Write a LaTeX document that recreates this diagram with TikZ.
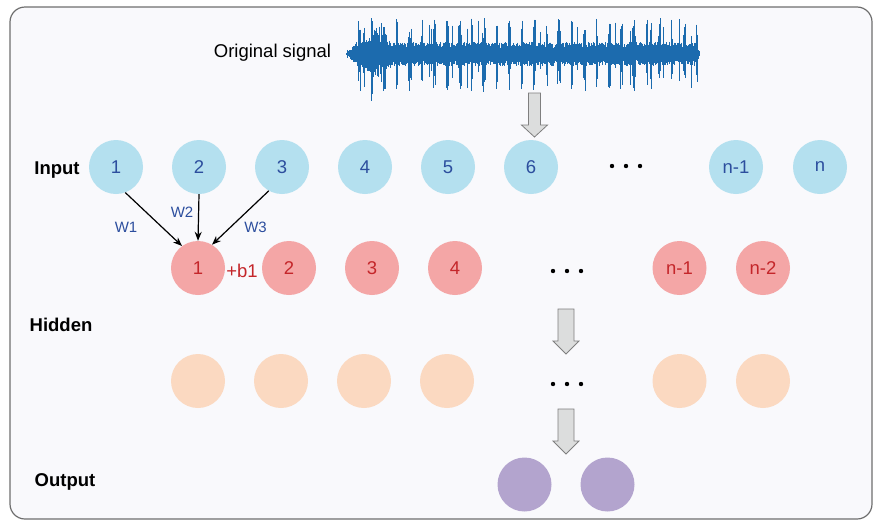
\documentclass[tikz,border=0pt]{standalone}
\usepackage{fontspec}
\setmainfont{Liberation Sans}
\usetikzlibrary{arrows.meta}

\definecolor{framegray}{HTML}{6E6E6E}
\definecolor{panelbg}{HTML}{F9F9FC}
\definecolor{inblue}{HTML}{B4E0EF}
\definecolor{hidred}{HTML}{F4A6A6}
\definecolor{hidpeach}{HTML}{FBD9C1}
\definecolor{outpurple}{HTML}{B3A4CE}
\definecolor{numblue}{HTML}{2C4E9E}
\definecolor{numred}{HTML}{C4262A}
\definecolor{wave}{HTML}{1C6BAE}
\definecolor{arrowfill}{HTML}{DCDDDD}
\definecolor{arrowedge}{HTML}{7F7F7F}

\tikzset{
  neuron/.style={circle, minimum size=54pt, inner sep=0pt, draw=none,
    font=\fontsize{18.5}{21}\selectfont},
  innode/.style={neuron, fill=inblue, text=numblue},
  hidnode/.style={neuron, fill=hidred, text=numred},
  peachnode/.style={neuron, fill=hidpeach},
  outnode/.style={neuron, fill=outpurple},
  layerlabel/.style={font=\bfseries\fontsize{18.5}{21}\selectfont, text=black},
  weightlabel/.style={font=\fontsize{15}{17}\selectfont, text=numblue},
  weightarrow/.style={-{Stealth[length=9pt,width=7pt]}, line width=1.2pt, black},
  bigarrow/.style={fill=arrowfill, draw=arrowedge, line width=0.8pt, line join=miter},
  waveline/.style={wave, line width=0.8pt},
  dotmark/.style={fill=black, draw=none}
}

\begin{document}
\begin{tikzpicture}[x=1pt, y=-1pt]
  \useasboundingbox (0,0) rectangle (878,520);

  % panel
  \draw[framegray, line width=1.2pt, fill=panelbg, rounded corners=15pt]
    (10,7) rectangle (872,519);

  % title of the raw signal
  \node[font=\fontsize{18.5}{21}\selectfont] (sigtitle) at (272.5,53) {Original signal};

  % raw signal trace: dense core with periodic transients
  \pgfmathsetseed{31}
  \foreach \i in {0,...,708}{
    \pgfmathsetmacro{\xx}{346+0.5*\i}
    \pgfmathsetmacro{\edge}{min(1, (\xx-346)/10, (700-\xx)/4)}
    \pgfmathsetmacro{\burst}{max(0, 1-abs(\xx-376)/16)}
    \pgfmathsetmacro{\ph}{mod(\i,25)}
    \pgfmathsetmacro{\spk}{(\ph<4 || rnd<0.05) ? 1 : 0}
    \pgfmathsetmacro{\up}{\edge*(\spk>0.5 ? 14+22*rnd : 6+6*rnd) + 20*\burst*rnd}
    \pgfmathsetmacro{\dn}{\edge*(\spk>0.5 ? 14+24*rnd : 6+6*rnd) + 22*\burst*rnd}
    \draw[waveline] (\xx,54-\up) -- (\xx,54+\dn);
  }

  % layer labels
  \node[layerlabel] (lin)  at (57,170)   {Input};
  \node[layerlabel] (lhid) at (61,325)   {Hidden};
  \node[layerlabel] (lout) at (65,482)   {Output};

  % input layer
  \node[innode] (i1) at (116,167) {1};
  \node[innode] (i2) at (199,167) {2};
  \node[innode] (i3) at (282,167) {3};
  \node[innode] (i4) at (365,167) {4};
  \node[innode] (i5) at (448,167) {5};
  \node[innode] (i6) at (531,167) {6};
  \node[innode] (in1) at (736,167) {n-1};
  \node[innode] (in)  at (820,167) {n};
  \foreach \x in {612,626,640} \fill[dotmark] (\x,166) circle (2.2pt);

  % first hidden layer
  \node[hidnode] (h1) at (198,268) {1};
  \node[hidnode] (h2) at (289,268) {2};
  \node[hidnode] (h3) at (372,268) {3};
  \node[hidnode] (h4) at (455,268) {4};
  \node[hidnode] (hn1) at (679.5,268) {n-1};
  \node[hidnode] (hn2) at (763,268) {n-2};
  \foreach \x in {553,567,581} \fill[dotmark] (\x,271) circle (2.2pt);

  % bias of the first hidden unit
  \node[font=\fontsize{18.5}{21}\selectfont, text=numred] (bias) at (242,271) {+b1};

  % second hidden layer
  \node[peachnode] (p1) at (198,381) {};
  \node[peachnode] (p2) at (281,381) {};
  \node[peachnode] (p3) at (364,381) {};
  \node[peachnode] (p4) at (447,381) {};
  \node[peachnode] (p5) at (679.5,381) {};
  \node[peachnode] (p6) at (763,381) {};
  \foreach \x in {553,567,581} \fill[dotmark] (\x,384) circle (2.2pt);

  % output layer
  \node[outnode] (o1) at (524.5,484.5) {};
  \node[outnode] (o2) at (607.5,484.5) {};

  % weighted connections into the first hidden unit
  \draw[weightarrow] (i1.-70)  -- (h1.126);
  \draw[weightarrow] (i2.south) -- (h1.north);
  \draw[weightarrow] (i3.-119) -- (h1.59);
  \node[weightlabel] (w1) at (126,227) {W1};
  \node[weightlabel] (w2) at (182,212) {W2};
  \node[weightlabel] (w3) at (255.5,227) {W3};

  % block arrows between stages
  \draw[bigarrow] (528.5,93) -- (540.5,93) -- (540.5,125) -- (547.5,125)
    -- (534.5,137) -- (521.5,125) -- (528.5,125) -- cycle;
  \draw[bigarrow] (558,309) -- (574,309) -- (574,341) -- (579,341)
    -- (566,354) -- (553,341) -- (558,341) -- cycle;
  \draw[bigarrow] (558,409) -- (574,409) -- (574,441) -- (579,441)
    -- (566,454) -- (553,441) -- (558,441) -- cycle;
\end{tikzpicture}
\end{document}
